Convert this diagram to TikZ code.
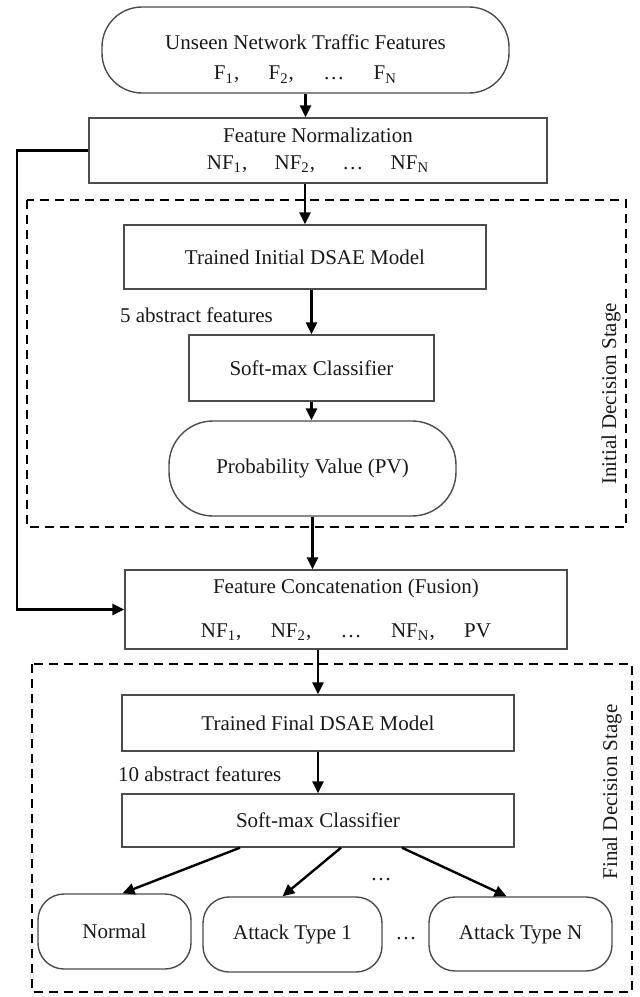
\documentclass[tikz,border=0pt]{standalone}
\usepackage{fontspec}
\setmainfont{Liberation Serif}
\usetikzlibrary{arrows.meta}

\begin{document}
\begin{tikzpicture}[x=0.5pt, y=-0.5pt,
    every node/.style={font=\fontsize{10.5}{12.6}\selectfont, text=black!90},
    flowbox/.style={draw=black!70, line width=0.7pt, align=center, inner sep=0pt},
    flowarrow/.style={-{Triangle[length=6pt, width=5.5pt]}, line width=1.2pt},
    stageframe/.style={line width=1.2pt, dash pattern=on 4.5pt off 3pt}]

  \useasboundingbox (0,0) rectangle (639,997);

  % Input features
  \node[flowbox, rounded corners=20pt, minimum width=203.5pt, minimum height=43pt] (unseen) at (305.5,50) {};
  \node[align=center] (unseentext) at (305.5,59)
    {Unseen Network Traffic Features\\[2.4pt]
     F\textsubscript{1},\hspace{1.4em}F\textsubscript{2},\hspace{1.4em}\dots\hspace{1.4em}F\textsubscript{N}};

  % Normalization
  \node[flowbox, minimum width=229pt, minimum height=32.5pt] (norm) at (318,150.5)
    {Feature Normalization\\[0.9pt]
     NF\textsubscript{1},\hspace{1.3em}NF\textsubscript{2},\hspace{1.3em}\dots\hspace{1.3em}NF\textsubscript{N}};

  % Initial decision stage
  \draw[stageframe] (27,200) rectangle (626,527);
  \node[flowbox, minimum width=181pt, minimum height=32pt] (dsaeA) at (305,257) {Trained Initial DSAE Model};
  \node[anchor=west] (absA) at (113,315) {5 abstract features};
  \node[flowbox, minimum width=122.5pt, minimum height=33pt] (softA) at (311.5,368) {Soft-max Classifier};
  \node[flowbox, rounded corners=22pt, minimum width=143.5pt, minimum height=47.5pt] (prob) at (312.5,468.5)
    {Probability Value (PV)};
  \node[rotate=90] (initlabel) at (611,394) {Initial Decision Stage};

  % Fusion
  \node[flowbox, minimum width=221pt, minimum height=39.5pt] (fusion) at (346,609.5)
    {Feature Concatenation (Fusion)\\[9.4pt]
     NF\textsubscript{1},\hspace{1.4em}NF\textsubscript{2},\hspace{1.4em}\dots\hspace{1.4em}NF\textsubscript{N},\hspace{1.4em}PV};

  % Final decision stage
  \draw[stageframe] (32,664) rectangle (632,992);
  \node[flowbox, minimum width=196pt, minimum height=28pt] (dsaeB) at (318,723) {Trained Final DSAE Model};
  \node[anchor=west] (absB) at (111,774) {10 abstract features};
  \node[flowbox, minimum width=196pt, minimum height=26.5pt] (softB) at (318,820.5) {Soft-max Classifier};
  \node[flowbox, rounded corners=13pt, minimum width=76.5pt, minimum height=37.5pt] (normal) at (114.5,931.5) {Normal};
  \node[flowbox, rounded corners=13pt, minimum width=89.5pt, minimum height=37.5pt] (attackA) at (292.5,934.5) {Attack Type 1};
  \node[flowbox, rounded corners=13pt, minimum width=91.5pt, minimum height=37pt] (attackN) at (520.5,934) {Attack Type N};
  \node (dotsup) at (381,880) {\dots};
  \node (dotsrow) at (406,939) {\dots};
  \node[rotate=90] (finallabel) at (612,792) {Final Decision Stage};

  % Main flow
  \draw[flowarrow] (unseen.south) -- (unseen.south |- norm.north);
  \draw[flowarrow] (dsaeA.north |- norm.south) -- (dsaeA.north);
  \draw[flowarrow] (softA.north |- dsaeA.south) -- (softA.north);
  \draw[flowarrow] (softA.south) -- (softA.south |- prob.north);
  \draw[flowarrow] (prob.south) -- (prob.south |- fusion.north);
  \draw[flowarrow] (dsaeB.north |- fusion.south) -- (dsaeB.north);
  \draw[flowarrow] (dsaeB.south) -- (softB.north);

  % Skip connection
  \coordinate (skip) at (17,150.5);
  \draw[flowarrow] (norm.west) -- (skip) |- (fusion.west);

  % Outputs
  \draw[flowarrow] ([xshift=-39pt]softB.south) -- ([xshift=4pt]normal.north);
  \draw[flowarrow] ([xshift=11.5pt]softB.south) -- ([xshift=-5pt]attackA.north);
  \draw[flowarrow] ([xshift=42pt]softB.south) -- ([xshift=-7pt]attackN.north);
\end{tikzpicture}
\end{document}
